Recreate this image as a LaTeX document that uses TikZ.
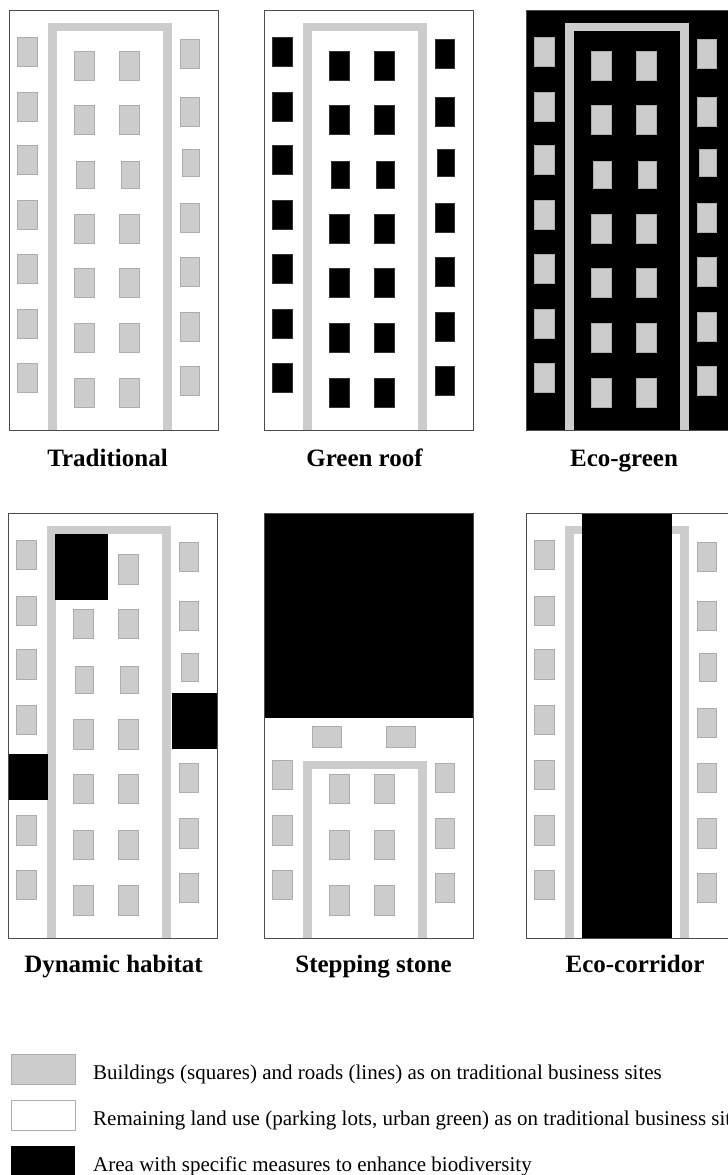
\documentclass[tikz,border=0pt]{standalone}
\usepackage{fontspec}
\setmainfont{Liberation Serif}
\definecolor{bgray}{gray}{0.8}
\definecolor{bedge}{gray}{0.68}
\definecolor{fgray}{gray}{0.3}
\tikzset{
  bldg/.style={fill=bgray,draw=bedge,line width=0.5pt},
  roofbldg/.style={fill=black,draw=black!80,line width=0.5pt},
  road/.style={draw=bgray,line width=8.5pt,line join=miter},
  siteframe/.style={draw=fgray,line width=1pt},
  habitat/.style={fill=black},
  caption/.style={anchor=base,font=\fontsize{25}{30}\selectfont\bfseries},
  keytext/.style={anchor=base west,inner sep=0pt,font=\fontsize{21}{25}\selectfont}
}
% road loop, open at the bottom
\newcommand\siteroad[1][17]{\draw[road] (43.5,420) -- (43.5,#1) -- (158.5,#1) -- (158.5,420);}
% all buildings of one site
\newcommand\sitebuildings[1]{%
  \foreach \y in {27,82,135,190,244,299,353} \draw[#1] (8,\y) rectangle +(20,29);
  \foreach \y in {29,87,193,247,302,356} \draw[#1] (171,\y) rectangle +(19,29);
  \draw[#1] (173,139) rectangle +(17,27);
  \foreach \y in {41,95,204,258,313,368} {
    \draw[#1] (65,\y) rectangle +(20,29);
    \draw[#1] (110,\y) rectangle +(20,29);
  }
  \draw[#1] (67,151) rectangle +(18,27);
  \draw[#1] (112,151) rectangle +(18,27);
}
\begin{document}
\begin{tikzpicture}[x=1pt,y=-1pt]
  \useasboundingbox (0,0) rectangle (728,1175);
  \clip (0,0) rectangle (728,1175);

  % traditional
  \begin{scope}[shift={(9,10)}]
    \siteroad
    \sitebuildings{bldg}
    \draw[siteframe] (0,0) rectangle (209,420);
  \end{scope}
  % green roof
  \begin{scope}[shift={(264,10)}]
    \siteroad
    \sitebuildings{roofbldg}
    \draw[siteframe] (0,0) rectangle (209,420);
  \end{scope}
  % eco-green
  \begin{scope}[shift={(526,10)}]
    \fill[habitat] (0,0) rectangle (209,420);
    \siteroad
    \sitebuildings{bldg}
    \draw[siteframe] (0,0) rectangle (209,420);
  \end{scope}

  % dynamic habitat
  \begin{scope}[shift={(8,513)},yscale=1.012]
    \siteroad
    \sitebuildings{bldg}
    \fill[habitat] (47,21) rectangle (100,86);
    \fill[habitat] (164,178) rectangle (209,233);
    \fill[habitat] (0,238) rectangle (40,284);
    \draw[siteframe] (0,0) rectangle (209,420);
  \end{scope}
  % stepping stone
  \begin{scope}[shift={(264,513)},yscale=1.012]
    \fill[habitat] (0,0) rectangle (209,203);
    \draw[bldg] (48,211) rectangle +(29,20);
    \draw[bldg] (122,211) rectangle +(29,20);
    \siteroad[249]
    \foreach \y in {244,299,353} \draw[bldg] (8,\y) rectangle +(20,29);
    \foreach \y in {247,302,356} \draw[bldg] (171,\y) rectangle +(19,29);
    \foreach \y in {258,313,368} {
      \draw[bldg] (65,\y) rectangle +(20,29);
      \draw[bldg] (110,\y) rectangle +(20,29);
    }
    \draw[siteframe] (0,0) rectangle (209,420);
  \end{scope}
  % eco-corridor
  \begin{scope}[shift={(526,513)},yscale=1.012]
    \siteroad
    \sitebuildings{bldg}
    \fill[habitat] (56,0) rectangle (146,420);
    \draw[siteframe] (0,0) rectangle (209,420);
  \end{scope}

  % captions
  \node[caption] (c1) at (107.5,466) {Traditional};
  \node[caption] (c2) at (364.5,466) {Green roof};
  \node[caption] (c3) at (624,466) {Eco-green};
  \node[caption] (c4) at (113.5,972) {Dynamic habitat};
  \node[caption] (c5) at (373.5,972) {Stepping stone};
  \node[caption] (c6) at (635,972) {Eco-corridor};

  % legend
  \draw[fill=bgray,draw=bedge] (11,1054) rectangle (75,1084);
  \draw[fill=white,draw=bedge] (11,1100) rectangle (75,1130);
  \fill[habitat] (11,1146) rectangle (75,1176);
  \node[keytext] (k1) at (93,1079) {Buildings (squares) and roads (lines) as on traditional business sites};
  \node[keytext] (k2) at (93,1125) {Remaining land use (parking lots, urban green) as on traditional business sites};
  \node[keytext] (k3) at (93,1171) {Area with specific measures to enhance biodiversity};
\end{tikzpicture}
\end{document}
